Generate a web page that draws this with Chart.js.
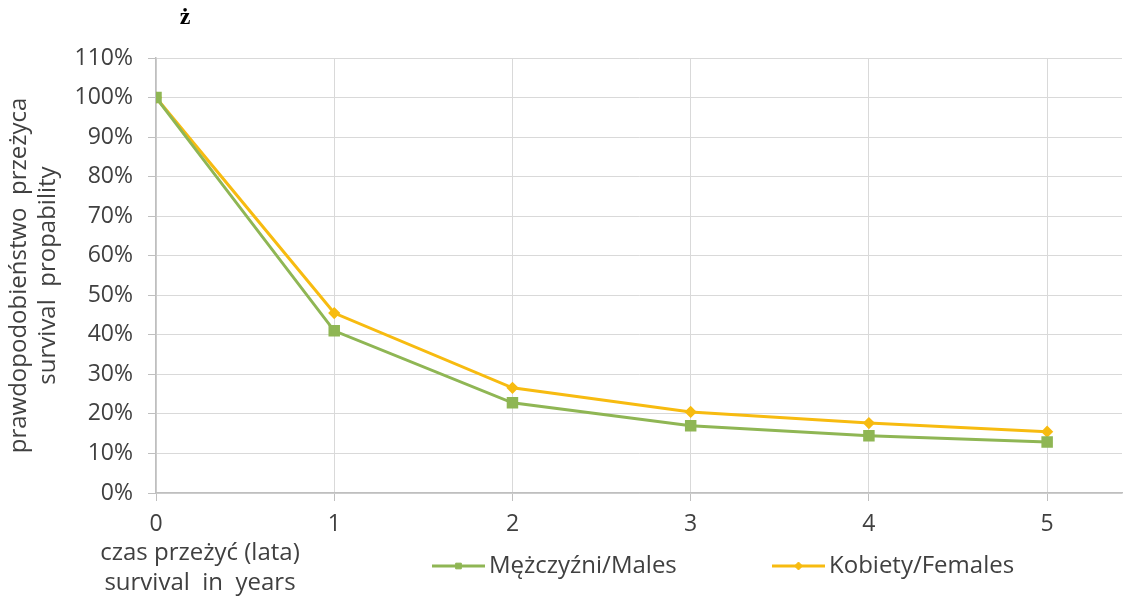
<!DOCTYPE html>
<html>
<head>
<meta charset="utf-8">
<script src="https://cdn.jsdelivr.net/npm/chart.js@4"></script>
<style>
  html, body { margin: 0; padding: 0; background: #fff; }
  #wrap { width: 1131px; height: 603px; }
</style>
</head>
<body>
<div id="wrap"><canvas id="myChart"></canvas></div>
<script>
const years = [0, 1, 2, 3, 4, 5];
const males = [100, 41, 22.8, 17, 14.5, 12.9];
const females = [100, 45.5, 26.6, 20.5, 17.7, 15.5];

const seriesNames = ['Mężczyźni/Males', 'Kobiety/Females'];
const yTitle = ['prawdopodobieństwo  przeżyca', 'survival  propability'];
const xTitle = ['czas przeżyć (lata)', 'survival  in  years'];
const topLabel = 'ż';

const fontName = '"Open Sans", sans-serif';
const textColor = '#404040';

Chart.defaults.font.family = fontName;
Chart.defaults.color = textColor;

function toPoints(values) {
    return years.map((x, i) => ({ x: x, y: values[i] }));
}

const extras = {
    id: 'extras',
    afterDraw(chart) {
        const ctx = chart.ctx;
        ctx.save();

        // stray letter at the top
        ctx.font = 'bold 24px "Liberation Serif", serif';
        ctx.fillStyle = '#000';
        ctx.textAlign = 'center';
        ctx.textBaseline = 'middle';
        ctx.fillText(topLabel, 185, 18);

        // x axis title, two lines on the left
        ctx.font = '24px ' + fontName;
        ctx.fillStyle = textColor;
        ctx.fillText(xTitle[0], 200, 553);
        ctx.fillText(xTitle[1], 200, 583);

        // legend
        const starts = [432, 772];
        const sizes = [4, 4];
        chart.data.datasets.forEach((ds, i) => {
            const x0 = starts[i];
            const y = 566;
            ctx.strokeStyle = ds.borderColor;
            ctx.fillStyle = ds.borderColor;
            ctx.lineWidth = 3;
            ctx.beginPath();
            ctx.moveTo(x0, y);
            ctx.lineTo(x0 + 53, y);
            ctx.stroke();
            ctx.lineWidth = 1;
            Chart.helpers.drawPoint(ctx, {
                pointStyle: ds.pointStyle,
                radius: sizes[i],
                borderWidth: 1
            }, x0 + 26.5, y);
            ctx.fillStyle = textColor;
            ctx.textAlign = 'left';
            ctx.font = '24px ' + fontName;
            ctx.fillText(ds.label, x0 + 57, y);
        });

        ctx.restore();
    }
};

const ctx = document.getElementById('myChart').getContext('2d');

new Chart(ctx, {
    type: 'line',
    data: {
        datasets: [{
            label: seriesNames[0],
            data: toPoints(males),
            borderColor: '#8fb654',
            backgroundColor: '#8fb654',
            borderWidth: 3,
            pointStyle: 'rect',
            pointRadius: 6,
            pointBackgroundColor: '#8fb654',
            pointBorderColor: '#8fb654',
            tension: 0
        },
        {
            label: seriesNames[1],
            data: toPoints(females),
            borderColor: '#f7bb10',
            backgroundColor: '#f7bb10',
            borderWidth: 3,
            pointStyle: 'rectRot',
            pointRadius: 4,
            pointBackgroundColor: '#f7bb10',
            pointBorderColor: '#f7bb10',
            tension: 0
        }]
    },
    options: {
        responsive: true,
        maintainAspectRatio: false,
        animation: false,
        layout: {
            padding: { left: 0, top: 58, right: 6, bottom: 0 }
        },
        plugins: {
            legend: { display: false },
            tooltip: { enabled: false }
        },
        scales: {
            x: {
                type: 'linear',
                min: 0,
                max: 5.42,
                afterFit: (scale) => { scale.height = 110; },
                border: { color: '#bfbfbf', width: 1.5 },
                grid: { color: '#d9d9d9', tickLength: 8, tickColor: '#bfbfbf' },
                ticks: {
                    stepSize: 1,
                    includeBounds: false,
                    padding: 10,
                    color: textColor,
                    font: { size: 23 }
                }
            },
            y: {
                min: 0,
                max: 110,
                afterFit: (scale) => { scale.width = 156; },
                border: { color: '#bfbfbf', width: 1.5 },
                grid: { color: '#d9d9d9', tickLength: 8, tickColor: '#bfbfbf' },
                title: {
                    display: true,
                    text: yTitle,
                    color: textColor,
                    font: { size: 24 },
                    padding: { top: 5, bottom: 0 }
                },
                ticks: {
                    stepSize: 10,
                    padding: 15,
                    color: textColor,
                    font: { size: 23 },
                    callback: (v) => v + '%'
                }
            }
        }
    },
    plugins: [extras]
});
</script>
</body>
</html>
